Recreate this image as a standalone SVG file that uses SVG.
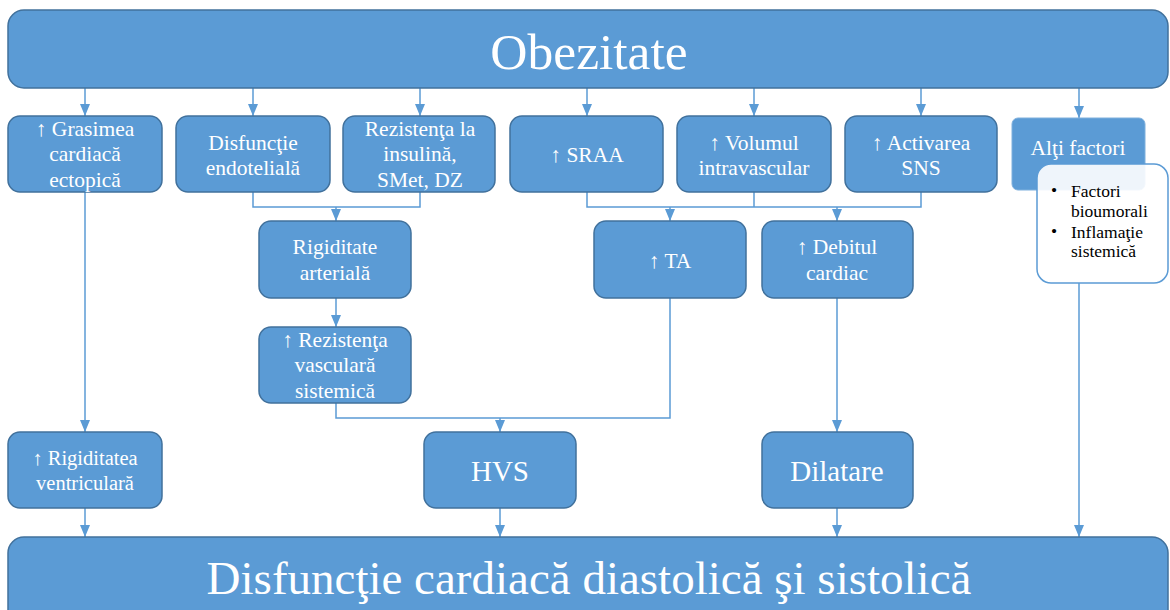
<svg xmlns="http://www.w3.org/2000/svg" width="1170" height="610" viewBox="0 0 1170 610">
<defs>
<style>
.n{fill:#5B9BD5;stroke:#41719C;stroke-width:1.5}
.t{font-family:'Liberation Serif','DejaVu Serif',serif;fill:#fff;text-anchor:middle;font-size:21.5px}
.c{fill:none;stroke:#5B9BD5;stroke-width:1.5}
.b{font-family:'Liberation Serif','DejaVu Serif',serif;fill:#000;font-size:17.5px}
.big{font-size:29px}
</style>
<marker id="ah" markerWidth="12" markerHeight="10" refX="12" refY="5" orient="auto" markerUnits="userSpaceOnUse">
<path d="M0,0 L12,5 L0,10 Z" fill="#5B9BD5"/>
</marker>
</defs>
<rect width="1170" height="610" fill="#fff"/>
<g id="connectors">
<path class="c" d="M85,88 V116" marker-end="url(#ah)"/>
<path class="c" d="M253,88 V116" marker-end="url(#ah)"/>
<path class="c" d="M420,88 V116" marker-end="url(#ah)"/>
<path class="c" d="M587,88 V116" marker-end="url(#ah)"/>
<path class="c" d="M754,88 V116" marker-end="url(#ah)"/>
<path class="c" d="M921,88 V116" marker-end="url(#ah)"/>
<path class="c" d="M1079,88 V118" marker-end="url(#ah)"/>
<path class="c" d="M253,192 V207 H420 V192"/>
<path class="c" d="M336,207 V221" marker-end="url(#ah)"/>
<path class="c" d="M587,192 V207 H921 V192"/>
<path class="c" d="M754,192 V207"/>
<path class="c" d="M670,207 V221" marker-end="url(#ah)"/>
<path class="c" d="M837,207 V221" marker-end="url(#ah)"/>
<path class="c" d="M336,298 V327" marker-end="url(#ah)"/>
<path class="c" d="M336,403 V418 H670 V298"/>
<path class="c" d="M500,418 V432" marker-end="url(#ah)"/>
<path class="c" d="M85,192 V432" marker-end="url(#ah)"/>
<path class="c" d="M837,298 V432" marker-end="url(#ah)"/>
<path class="c" d="M85,508 V537" marker-end="url(#ah)"/>
<path class="c" d="M500,508 V537" marker-end="url(#ah)"/>
<path class="c" d="M837,508 V537" marker-end="url(#ah)"/>
<path class="c" d="M1079,283 V537" marker-end="url(#ah)"/>
</g>
<g id="obezitate">
<rect class="n" x="8" y="10" width="1160" height="78" rx="16"/>
<text class="t" x="589" y="69" style="font-size:51.5px">Obezitate</text>
</g>
<g id="grasimea">
<rect class="n" x="8" y="116" width="154" height="76" rx="12"/>
<text class="t" x="85" y="136">↑ Grasimea</text>
<text class="t" x="85" y="161">cardiacă</text>
<text class="t" x="85" y="187">ectopică</text>
</g>
<g id="disfunctie">
<rect class="n" x="176" y="116" width="154" height="76" rx="12"/>
<text class="t" x="253" y="150">Disfuncţie</text>
<text class="t" x="253" y="175">endotelială</text>
</g>
<g id="rezistenta-insulina">
<rect class="n" x="343" y="116" width="152" height="76" rx="12"/>
<text class="t" x="420" y="136">Rezistenţa la</text>
<text class="t" x="420" y="161">insulină,</text>
<text class="t" x="420" y="187">SMet, DZ</text>
</g>
<g id="sraa">
<rect class="n" x="510" y="116" width="153" height="76" rx="12"/>
<text class="t" x="587" y="162">↑ SRAA</text>
</g>
<g id="volumul">
<rect class="n" x="677" y="116" width="154" height="76" rx="12"/>
<text class="t" x="754" y="150">↑ Volumul</text>
<text class="t" x="754" y="175">intravascular</text>
</g>
<g id="sns">
<rect class="n" x="845" y="116" width="152" height="76" rx="12"/>
<text class="t" x="921" y="150">↑ Activarea</text>
<text class="t" x="921" y="175">SNS</text>
</g>
<g id="alti-factori">
<rect x="1012" y="118" width="133" height="72" rx="6" fill="#5B9BD5" stroke="#7FB0DD" stroke-width="1"/>
<text class="t" x="1078" y="155">Alţi factori</text>
</g>
<g id="factori-list">
<rect x="1037" y="164" width="131" height="119" rx="14" fill="#fff" fill-opacity="0.9" stroke="#5B9BD5" stroke-width="1.5"/>
<text class="b" x="1051" y="196">•</text>
<text class="b" x="1071" y="197">Factori</text>
<text class="b" x="1071" y="217">bioumorali</text>
<text class="b" x="1051" y="237">•</text>
<text class="b" x="1071" y="238">Inflamaţie</text>
<text class="b" x="1071" y="257">sistemică</text>
</g>
<g id="rigiditate-arteriala">
<rect class="n" x="259" y="221" width="152" height="77" rx="12"/>
<text class="t" x="335" y="254">Rigiditate</text>
<text class="t" x="335" y="280">arterială</text>
</g>
<g id="ta">
<rect class="n" x="594" y="221" width="152" height="77" rx="12"/>
<text class="t" x="670" y="268">↑ TA</text>
</g>
<g id="debitul">
<rect class="n" x="762" y="221" width="151" height="77" rx="12"/>
<text class="t" x="837" y="254">↑ Debitul</text>
<text class="t" x="837" y="280">cardiac</text>
</g>
<g id="rezistenta-vasculara">
<rect class="n" x="259" y="327" width="152" height="76" rx="12"/>
<text class="t" x="335" y="347">↑ Rezistenţa</text>
<text class="t" x="335" y="372">vasculară</text>
<text class="t" x="335" y="398">sistemică</text>
</g>
<g id="rigiditatea-ventriculara">
<rect class="n" x="8" y="432" width="154" height="76" rx="12"/>
<text class="t" x="85" y="465" style="font-size:20.5px">↑ Rigiditatea</text>
<text class="t" x="85" y="490" style="font-size:20.5px">ventriculară</text>
</g>
<g id="hvs">
<rect class="n" x="424" y="432" width="152" height="76" rx="12"/>
<text class="t big" x="500" y="481">HVS</text>
</g>
<g id="dilatare">
<rect class="n" x="762" y="432" width="151" height="76" rx="12"/>
<text class="t big" x="837" y="481">Dilatare</text>
</g>
<g id="disfunctie-cardiaca">
<rect class="n" x="8" y="537" width="1160" height="90" rx="16"/>
<text class="t" x="589" y="594" style="font-size:47px">Disfuncţie cardiacă diastolică şi sistolică</text>
</g>
</svg>
